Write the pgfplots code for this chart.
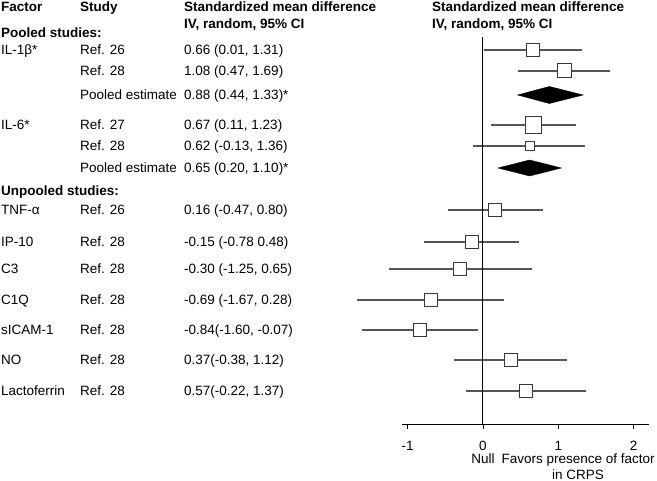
\documentclass[border=0pt]{standalone}
\usepackage{fontspec}
\setmainfont{Liberation Sans}
\usepackage{pgfplots}
\pgfplotsset{compat=1.18}
\definecolor{ci}{RGB}{85,85,85}
\definecolor{bx}{RGB}{55,55,55}
\begin{document}
\fontsize{13.5}{16}\selectfont
\begin{tikzpicture}[every node/.style={inner sep=0pt}]
\useasboundingbox (0pt,0pt) rectangle (657pt,-481pt);
\begin{axis}[
  at={(402.4pt,-424pt)}, anchor=south west,
  scale only axis, width=246.3pt, height=387pt,
  xmin=-1.07, xmax=2.2, ymin=-424, ymax=-37,
  axis x line=bottom, axis y line=none,
  x axis line style={-, black, line width=0.9pt},
  xtick={-1,0,1,2}, xticklabels={-1,0,1,2},
  tick align=outside, major tick length=5pt,
  xtick style={black, line width=0.9pt},
  xticklabel style={font=\fontsize{13.5}{16}\selectfont, anchor=base, yshift=-21pt},
  clip=false,
]
% CI lines
\addplot[ci, line width=1.3pt] coordinates {(0.01,-50) (1.31,-50)};
\addplot[ci, line width=1.3pt] coordinates {(0.47,-71) (1.69,-71)};
\addplot[ci, line width=1.3pt] coordinates {(0.11,-125) (1.23,-125)};
\addplot[ci, line width=1.3pt] coordinates {(-0.13,-146) (1.36,-146)};
\addplot[ci, line width=1.3pt] coordinates {(-0.47,-210) (0.80,-210)};
\addplot[ci, line width=1.3pt] coordinates {(-0.78,-242) (0.48,-242)};
\addplot[ci, line width=1.3pt] coordinates {(-1.25,-269) (0.65,-269)};
\addplot[ci, line width=1.3pt] coordinates {(-1.67,-300) (0.28,-300)};
\addplot[ci, line width=1.3pt] coordinates {(-1.60,-330) (-0.07,-330)};
\addplot[ci, line width=1.3pt] coordinates {(-0.38,-360) (1.12,-360)};
\addplot[ci, line width=1.3pt] coordinates {(-0.22,-391) (1.37,-391)};
% null line
\addplot[black, line width=1pt] coordinates {(0,-37) (0,-424)};
% pooled diamonds
\addplot[fill=black, draw=black] coordinates {(0.46,-95) (0.88,-86.5) (1.33,-95) (0.88,-103.5)} -- cycle;
\addplot[fill=black, draw=black] coordinates {(0.20,-168) (0.62,-160) (1.04,-168) (0.62,-176)} -- cycle;
% boxes
\addplot[only marks, mark=square*, mark size=6.3pt, mark options={fill=white, draw=bx, line width=1pt}] coordinates {(0.66,-50)};
\addplot[only marks, mark=square*, mark size=7pt, mark options={fill=white, draw=bx, line width=1pt}] coordinates {(1.08,-71)};
\addplot[only marks, mark=square*, mark size=8.2pt, mark options={fill=white, draw=bx, line width=1pt}] coordinates {(0.67,-125)};
\addplot[only marks, mark=square*, mark size=4.6pt, mark options={fill=white, draw=bx, line width=1pt}] coordinates {(0.62,-146)};
\addplot[only marks, mark=square*, mark size=6.6pt, mark options={fill=white, draw=bx, line width=1pt}] coordinates {(0.16,-210) (-0.15,-242) (-0.30,-269) (-0.69,-300) (-0.84,-330) (0.37,-360) (0.57,-391)};
\node[anchor=base] at (axis cs:0,-463.5) {Null};
\node[anchor=base] at (axis cs:1.262,-463.5) {Favors presence of factor};
\node[anchor=base] at (axis cs:1.262,-479.5) {in CRPS};
\end{axis}
% headers
\node[anchor=base west, font=\bfseries] at (1pt,-11.7pt) {Factor};
\node[anchor=base west, font=\bfseries] at (80pt,-11.7pt) {Study};
\node[anchor=base west, font=\bfseries] at (184pt,-11.7pt) {Standardized mean difference};
\node[anchor=base west, font=\bfseries] at (184pt,-28.5pt) {IV, random, 95\% CI};
\node[anchor=base west, font=\bfseries] at (432pt,-11.7pt) {Standardized mean difference};
\node[anchor=base west, font=\bfseries] at (432pt,-28.5pt) {IV, random, 95\% CI};
\node[anchor=base west, font=\bfseries] at (1pt,-37.5pt) {Pooled studies:};
\node[anchor=base west, font=\bfseries] at (1pt,-195.5pt) {Unpooled studies:};
% rows
\node[anchor=base west] at (1pt,-54.7pt) {IL-1β*};
\node[anchor=base west] at (80pt,-54.7pt) {Ref. 26};
\node[anchor=base west] at (184pt,-54.7pt) {0.66 (0.01, 1.31)};
\node[anchor=base west] at (80pt,-75.7pt) {Ref. 28};
\node[anchor=base west] at (184pt,-75.7pt) {1.08 (0.47, 1.69)};
\node[anchor=base west] at (80pt,-99.7pt) {Pooled estimate};
\node[anchor=base west] at (184pt,-99.7pt) {0.88 (0.44, 1.33)*};
\node[anchor=base west] at (1pt,-129.7pt) {IL-6*};
\node[anchor=base west] at (80pt,-129.7pt) {Ref. 27};
\node[anchor=base west] at (184pt,-129.7pt) {0.67 (0.11, 1.23)};
\node[anchor=base west] at (80pt,-150.7pt) {Ref. 28};
\node[anchor=base west] at (184pt,-150.7pt) {0.62 (-0.13, 1.36)};
\node[anchor=base west] at (80pt,-172.7pt) {Pooled estimate};
\node[anchor=base west] at (184pt,-172.7pt) {0.65 (0.20, 1.10)*};
\node[anchor=base west] at (1pt,-214.7pt) {TNF-α};
\node[anchor=base west] at (80pt,-214.7pt) {Ref. 26};
\node[anchor=base west] at (184pt,-214.7pt) {0.16 (-0.47, 0.80)};
\node[anchor=base west] at (1pt,-246.7pt) {IP-10};
\node[anchor=base west] at (80pt,-246.7pt) {Ref. 28};
\node[anchor=base west] at (184pt,-246.7pt) {-0.15 (-0.78 0.48)};
\node[anchor=base west] at (1pt,-273.7pt) {C3};
\node[anchor=base west] at (80pt,-273.7pt) {Ref. 28};
\node[anchor=base west] at (184pt,-273.7pt) {-0.30 (-1.25, 0.65)};
\node[anchor=base west] at (1pt,-304.7pt) {C1Q};
\node[anchor=base west] at (80pt,-304.7pt) {Ref. 28};
\node[anchor=base west] at (184pt,-304.7pt) {-0.69 (-1.67, 0.28)};
\node[anchor=base west] at (1pt,-334.7pt) {sICAM-1};
\node[anchor=base west] at (80pt,-334.7pt) {Ref. 28};
\node[anchor=base west] at (184pt,-334.7pt) {-0.84(-1.60, -0.07)};
\node[anchor=base west] at (1pt,-364.7pt) {NO};
\node[anchor=base west] at (80pt,-364.7pt) {Ref. 28};
\node[anchor=base west] at (184pt,-364.7pt) {0.37(-0.38, 1.12)};
\node[anchor=base west] at (1pt,-395.7pt) {Lactoferrin};
\node[anchor=base west] at (80pt,-395.7pt) {Ref. 28};
\node[anchor=base west] at (184pt,-395.7pt) {0.57(-0.22, 1.37)};
\end{tikzpicture}
\end{document}
